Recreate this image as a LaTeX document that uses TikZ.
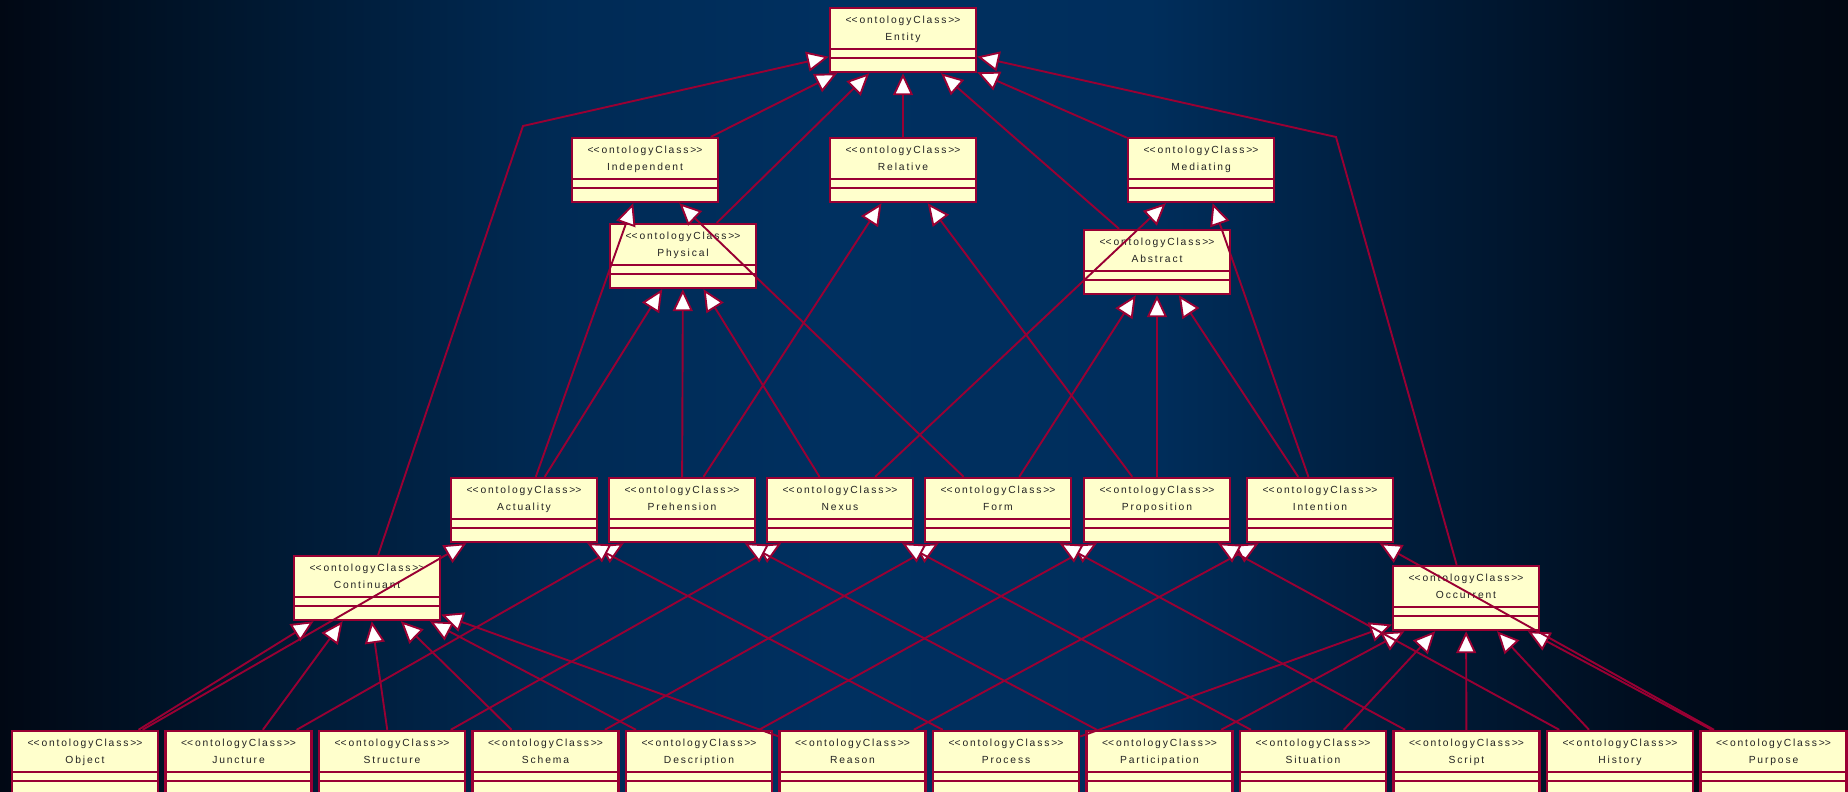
\documentclass[tikz,border=0pt]{standalone}
\usepackage{fontspec}
\newfontfamily\boxfont{Liberation Sans}[LetterSpace=18]
\usetikzlibrary{arrows.meta}
\definecolor{bord}{HTML}{990033}
\definecolor{boxfill}{HTML}{FFFFCC}
\definecolor{txt}{HTML}{222222}
\definecolor{bgA}{RGB}{1,8,20}
\definecolor{bgB}{RGB}{0,22,45}
\definecolor{bgC}{RGB}{0,42,84}
\definecolor{bgD}{RGB}{0,48,96}
\definecolor{bgE}{RGB}{0,46,92}
\definecolor{bgF}{RGB}{0,26,54}
\definecolor{bgG}{RGB}{0,12,28}
\definecolor{bgH}{RGB}{1,8,18}
\pgfdeclarehorizontalshading{bgshade}{100bp}{color(0bp)=(bgA); color(25bp)=(bgA); color(31bp)=(bgB); color(40bp)=(bgC); color(47.5bp)=(bgD); color(56bp)=(bgE); color(64bp)=(bgF); color(70bp)=(bgG); color(75bp)=(bgH); color(100bp)=(bgH)}
\newcommand\ontoster{<\kern0pt<ontologyClass>\kern0pt>}
\begin{document}
\begin{tikzpicture}[x=1pt,y=-1pt,
  cls/.style={rectangle, draw=bord, fill=boxfill, line width=2.4pt,
    minimum width=146pt, minimum height=64pt, inner sep=0pt,
    path picture={
      \draw[bord, line width=2.4pt]
        ([yshift=-9pt]path picture bounding box.west) -- ([yshift=-9pt]path picture bounding box.east)
        ([yshift=-18pt]path picture bounding box.west) -- ([yshift=-18pt]path picture bounding box.east);
    }},
  lbl/.style={anchor=north, yshift=-9pt, inner sep=0pt, align=center, text=txt,
    font=\boxfont\fontsize{10.3}{17.5}\selectfont},
  gen/.style={draw=bord, line width=1.9pt,
    -{Triangle[length=22pt,width=20pt,fill=white]}}]
\useasboundingbox (0,0) rectangle (1848,792);
\clip (0,0) rectangle (1848,792);
\shade[shading=bgshade] (0,0) rectangle (1848,792);

% level 0-2
\node[cls, label={[lbl]north:{\ontoster\\Entity}}] (entity) at (903,40) {};
\node[cls, label={[lbl]north:{\ontoster\\Independent}}] (independent) at (645,170) {};
\node[cls, label={[lbl]north:{\ontoster\\Relative}}] (relative) at (903,170) {};
\node[cls, label={[lbl]north:{\ontoster\\Mediating}}] (mediating) at (1201,170) {};
\node[cls, label={[lbl]north:{\ontoster\\Physical}}] (physical) at (683,256) {};
\node[cls, label={[lbl]north:{\ontoster\\Abstract}}] (abstract) at (1157,262) {};

% middle row
\node[cls, label={[lbl]north:{\ontoster\\Actuality}}] (actuality) at (524,510) {};
\node[cls, label={[lbl]north:{\ontoster\\Prehension}}] (prehension) at (682,510) {};
\node[cls, label={[lbl]north:{\ontoster\\Nexus}}] (nexus) at (840,510) {};
\node[cls, label={[lbl]north:{\ontoster\\Form}}] (form) at (998,510) {};
\node[cls, label={[lbl]north:{\ontoster\\Proposition}}] (proposition) at (1157,510) {};
\node[cls, label={[lbl]north:{\ontoster\\Intention}}] (intention) at (1320,510) {};

\node[cls, label={[lbl]north:{\ontoster\\Continuant}}] (continuant) at (367,588) {};
\node[cls, label={[lbl]north:{\ontoster\\Occurrent}}] (occurrent) at (1466,598) {};

% bottom row
\node[cls, label={[lbl]north:{\ontoster\\Object}}] (object) at (85,763) {};
\node[cls, label={[lbl]north:{\ontoster\\Juncture}}] (juncture) at (238.5,763) {};
\node[cls, label={[lbl]north:{\ontoster\\Structure}}] (structure) at (392,763) {};
\node[cls, label={[lbl]north:{\ontoster\\Schema}}] (schema) at (545.5,763) {};
\node[cls, label={[lbl]north:{\ontoster\\Description}}] (description) at (699,763) {};
\node[cls, label={[lbl]north:{\ontoster\\Reason}}] (reason) at (852.5,763) {};
\node[cls, label={[lbl]north:{\ontoster\\Process}}] (process) at (1006,763) {};
\node[cls, label={[lbl]north:{\ontoster\\Participation}}] (participation) at (1159.5,763) {};
\node[cls, label={[lbl]north:{\ontoster\\Situation}}] (situation) at (1313,763) {};
\node[cls, label={[lbl]north:{\ontoster\\Script}}] (script) at (1466.5,763) {};
\node[cls, label={[lbl]north:{\ontoster\\History}}] (history) at (1620,763) {};
\node[cls, label={[lbl]north:{\ontoster\\Purpose}}] (purpose) at (1773.5,763) {};

\coordinate (bendL) at (523,126);
\coordinate (bendR) at (1336,137);

% to Entity
\draw[gen] (independent) -- (entity);
\draw[gen] (physical) -- (entity);
\draw[gen] (relative) -- (entity);
\draw[gen] (abstract) -- (entity);
\draw[gen] (mediating) -- (entity);
\draw[gen] (continuant) -- (bendL) -- (entity);
\draw[gen] (occurrent) -- (bendR) -- (entity);

% middle row up
\draw[gen] (actuality) -- (independent);
\draw[gen] (actuality) -- (physical);
\draw[gen] (prehension) -- (physical);
\draw[gen] (prehension) -- (relative);
\draw[gen] (nexus) -- (physical);
\draw[gen] (nexus) -- (mediating);
\draw[gen] (form) -- (independent);
\draw[gen] (form) -- (abstract);
\draw[gen] (proposition) -- (abstract);
\draw[gen] (proposition) -- (relative);
\draw[gen] (intention) -- (abstract);
\draw[gen] (intention) -- (mediating);

% bottom row up
\draw[gen] (object) -- (continuant);
\draw[gen] (object) -- (actuality);
\draw[gen] (juncture) -- (continuant);
\draw[gen] (juncture) -- (prehension);
\draw[gen] (structure) -- (continuant);
\draw[gen] (structure) -- (nexus);
\draw[gen] (schema) -- (continuant);
\draw[gen] (schema) -- (form);
\draw[gen] (description) -- (continuant);
\draw[gen] (description) -- (proposition);
\draw[gen] (reason) -- (continuant);
\draw[gen] (reason) -- (intention);
\draw[gen] (process) -- (occurrent);
\draw[gen] (process) -- (actuality);
\draw[gen] (participation) -- (occurrent);
\draw[gen] (participation) -- (prehension);
\draw[gen] (situation) -- (occurrent);
\draw[gen] (situation) -- (nexus);
\draw[gen] (script) -- (occurrent);
\draw[gen] (script) -- (form);
\draw[gen] (history) -- (occurrent);
\draw[gen] (history) -- (proposition);
\draw[gen] (purpose) -- (occurrent);
\draw[gen] (purpose) -- (intention);
\end{tikzpicture}
\end{document}
